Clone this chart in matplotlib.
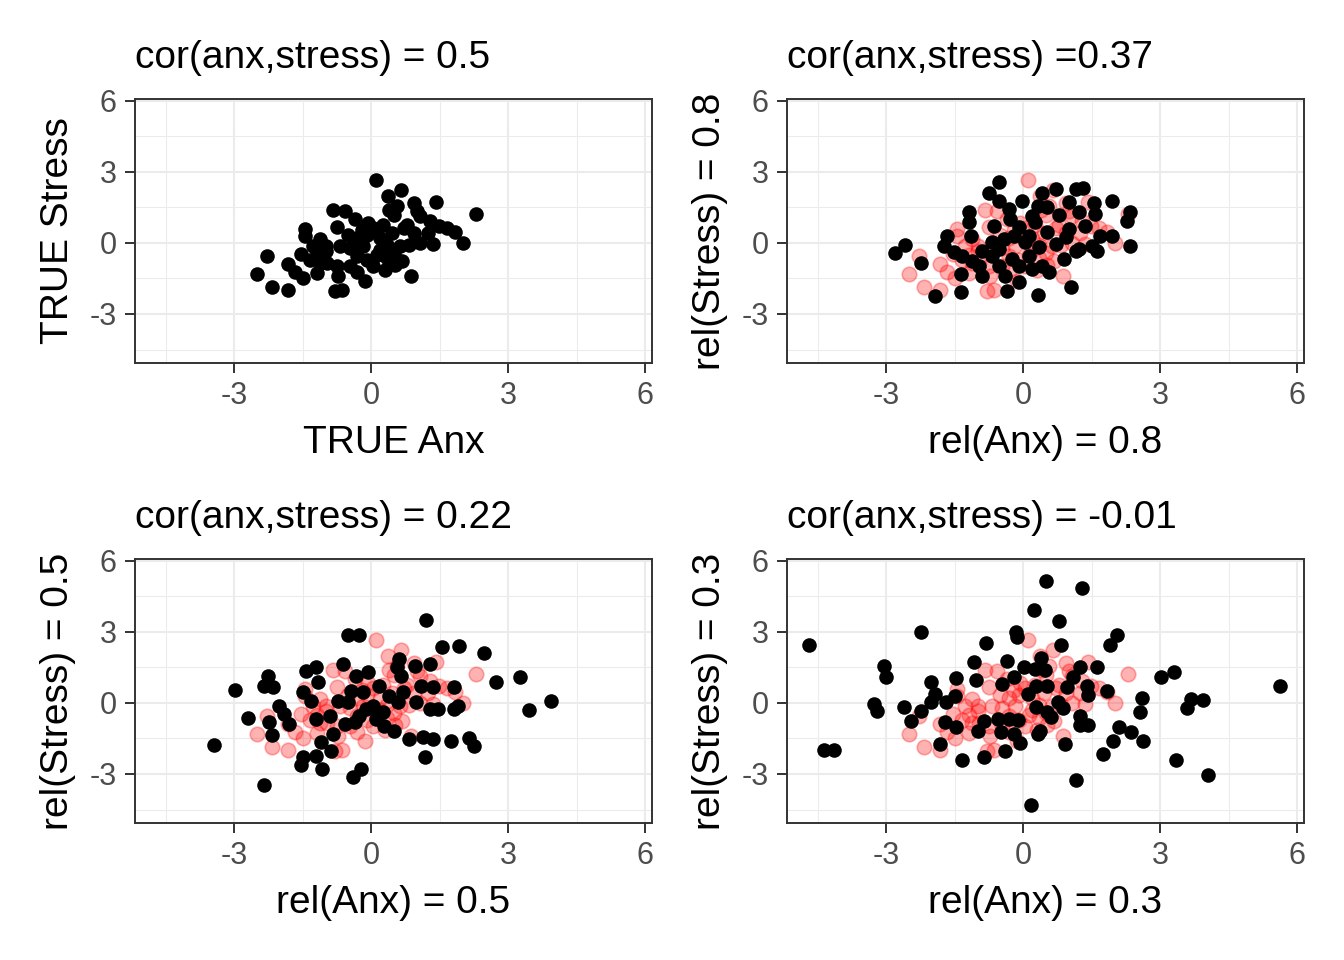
import matplotlib
matplotlib.use("Agg")
import matplotlib.pyplot as plt
from matplotlib.ticker import MultipleLocator

plt.rcParams['font.family'] = ['Liberation Sans', 'DejaVu Sans']

# true scores (panel 1, also drawn in red behind the others)
true_anx = [0.11, 0.38, 0.66, 0.93, 1.42, 2.30, -0.84, -0.57, 0.40, -0.35, -0.06, 0.27, 0.49,
            1.08, 1.29, 1.66, 1.84, 2.01, -1.45, -1.45, -0.74, -1.12, -0.99, -0.50, -0.31, -0.10,
            0.20, 0.45, 0.71, 0.93, 1.08, 1.35, 0.82, 0.64, 0.34, -0.46, -0.17, -2.29, -1.54,
            -1.19, -1.81, -1.67, -1.49, -2.49, -2.16, -1.81, -1.19, -0.97, -0.75, -0.72, -0.46,
            -0.30, -0.13, -0.79, -0.64, 0.05, 0.31, 0.53, 0.67, 0.87, -0.31, -0.10, 0.12, 0.34,
            -1.12, -1.34, -0.20, 0.05, 0.78, 1.24, 1.49, 1.00, 0.56, -0.99, -0.68, 0.20, 0.49, -1.27]
true_stress = [2.68, 2.00, 2.25, 1.69, 1.75, 1.23, 1.41, 1.34, 1.41, 1.01, 0.85, 0.77, 1.20,
               1.13, 0.92, 0.63, 0.45, 0.00, 0.59, 0.28, 0.68, 0.17, -0.11, 0.35, 0.21, 0.35,
               0.21, 0.42, 0.63, 0.42, 0.00, -0.04, -0.07, -0.14, -0.07, -0.21, -0.14, -0.54, -0.45,
               -0.49, -0.87, -1.24, -1.48, -1.30, -1.86, -1.97, -1.27, -0.85, -0.99, -1.41, -0.99,
               -1.24, -1.62, -2.04, -2.00, -0.99, -1.13, -0.92, -0.77, -1.41, -0.56, -0.70, -0.49, -0.63,
               -0.85, -0.70, 0.56, 0.63, 0.77, 0.42, 0.70, 1.34, 1.55, -0.35, -0.14, -0.28, -0.42, -0.14]

# observed scores, reliability 0.8
anx_08 = [-0.52, -0.75, -0.52, -0.31, -0.02, 0.42, 0.71, 1.15, 1.31, 0.33, 0.53, 1.00, 1.55,
          1.95, 1.22, 0.78, 1.58, 2.35, 2.28, -1.19, -1.19, -0.64, -0.09, 0.27, -1.66, -1.15,
          -0.68, -0.42, -0.20, 0.12, 0.53, 0.71, 1.00, 1.36, 1.69, 1.51, 1.22, 1.62, 2.35,
          -2.58, -2.81, -1.74, -1.52, -1.34, -2.23, -1.12, -0.97, -1.37, -0.90, -0.68, -0.53,
          -0.39, -0.24, -0.09, -0.09, 0.12, 0.20, 0.42, 0.56, 0.89, -1.94, -1.36, -0.36, 0.33,
          1.04, 0.05, 0.34, -0.53, -0.90, 0.93, 1.95, 0.20, -0.28, 1.15]
stress_08 = [2.56, 2.11, 1.79, 1.44, 1.79, 2.11, 2.28, 2.28, 2.31, 1.58, 1.51, 1.75, 1.69,
             1.79, 1.30, 1.18, 1.23, 1.30, 0.94, 1.30, 0.87, 0.73, 0.66, 0.87, 0.31, 0.31,
             0.03, 0.17, 0.31, 0.31, 0.45, -0.04, 0.59, 0.73, 0.31, -0.11, -0.25, -0.32, -0.14,
             -0.08, -0.42, -0.11, -0.39, -0.54, -0.85, -0.75, -0.96, -1.31, -1.38, -0.54, -0.96,
             -1.38, -0.68, -0.96, -1.66, -0.54, -1.10, -0.96, -1.24, -0.68, -2.23, -2.06, -2.01, -2.20,
             -1.87, 0.03, -0.18, -0.25, -0.32, 0.24, 0.31, 1.15, 1.01, -0.32]

# observed scores, reliability 0.5
anx_05 = [-0.51, -0.27, -0.61, -1.42, -1.20, -1.17, -2.26, -2.34, -2.14, -2.98, -1.50, -1.31,
          -0.33, -0.07, -0.44, -0.18, 0.18, -0.73, -0.51, -2.01, -1.90, -2.70, -2.23, -1.79,
          -2.18, -1.20, -0.91, -0.58, -0.36, -0.84, -1.09, -0.88, -1.20, -1.50, -1.53, -1.07,
          -0.22, -0.40, -3.43, -2.34, 0.04, 0.11, -0.11, 0.26, -0.26,
          1.20, 1.55, 1.92, 2.48, 0.61, 0.95, 1.28, 0.56, 0.66, 0.69, 0.40, 1.09, 1.35, 1.82,
          2.74, 3.25, 3.94, 3.45, 0.99, 1.28, 1.46, 1.82, 1.90, 0.58, 0.29, 0.51, 0.84, 1.13,
          1.35, 1.75, 2.14, 2.26, 1.17]
stress_05 = [2.85, 2.85, 1.65, 1.37, 1.51, 0.90, 1.13, 0.73, 0.66, 0.56, 0.48, 0.10,
             1.15, 1.30, 0.52, 0.45, 0.73, 0.10, 0.03, -0.11, -0.46, -0.65, -0.79, -0.89,
             -1.35, -0.68, -0.54, -0.89, -0.82, -1.31, -1.66, -2.01, -2.23, -2.30, -2.62, -2.79,
             -2.79, -3.14, -1.77, -3.45, -0.11, -0.68, -0.25, -0.39, -0.54,
             3.51, 2.35, 2.39, 2.10, 1.86, 1.58, 1.65, 1.51, 1.15, 0.45, 0.31, 0.73, 0.66, 0.66,
             0.87, 1.08, 0.07, -0.28, 0.03, -0.25, -0.25, -0.25, -0.11, 0.03, -0.96, -1.17, -1.52, -1.45,
             -1.52, -1.59, -1.48, -1.80, -2.30]

# observed scores, reliability 0.3
anx_03 = [-4.69, -2.23, 0.23, -0.15, -0.13, -0.81, -3.05, -3.00, -1.07, -0.35, -1.47, -1.03,
          -2.01, -1.94, -1.50, -1.68, -2.01, -3.27, -3.20, -2.60, -2.23, -2.45, -1.72, -1.47,
          -0.86, -0.99, -1.83, -1.33, -0.85, -0.39, -0.06, -0.55, -0.30, -0.12, -0.48, -0.19,
          0.10, 0.28, -0.47, -0.19, 0.03, 0.25, 0.28, 0.32, -4.36, -4.13, 0.18,
          0.50, 1.28, 0.79, 2.05, 1.91, 0.82, 0.39, 0.48, 1.25, 1.61, 1.10, 0.52, 0.96, 1.39,
          1.42, 1.83, 0.77, 0.88, 0.52, 0.61, 1.25, 1.25, 1.41, 0.36, 0.92, 1.74, 1.96, 2.09,
          2.36, 2.62, 2.56, 2.60, 3.02, 3.31, 3.67, 3.93, 3.58, 3.34, 4.04, 5.63, 1.16]
stress_03 = [2.44, 2.99, 3.93, 2.99, 2.77, 2.52, 1.58, 1.11, 1.72, 1.76, 1.06, 0.97,
             0.87, 0.38, 0.31, 0.03, 0.03, -0.04, -0.32, -0.15, -0.32, -0.75, -0.82, -1.00,
             -0.77, -1.17, -1.73, -2.41, -2.30, -2.04, -1.70, -0.68, -0.68, -0.72, -1.24, -1.31,
             0.38, 0.73, 0.80, 1.08, 1.51, 1.44, -0.18, -1.31, -1.99, -1.97, -4.31,
             5.17, 4.85, 3.48, 2.87, 2.46, 2.46, 1.90, 1.39, 1.51, 1.51, 1.08, 0.73, 0.66, 0.73,
             0.35, 0.49, 0.03, -0.21, -0.39, -0.61, -0.54, -0.92, -0.92, -1.17, -1.73, -2.15, -1.59, -1.03,
             -1.24, -1.62, -0.39, 0.21, 1.11, 1.30, 0.17, 0.13, -0.21, -2.41, -3.04, 0.73, -3.24]

panels = [
    (None, None, true_anx, true_stress, 'cor(anx,stress) = 0.5', 'TRUE Anx', 'TRUE Stress'),
    (true_anx, true_stress, anx_08, stress_08, 'cor(anx,stress) =0.37', 'rel(Anx) = 0.8', 'rel(Stress) = 0.8'),
    (true_anx, true_stress, anx_05, stress_05, 'cor(anx,stress) = 0.22', 'rel(Anx) = 0.5', 'rel(Stress) = 0.5'),
    (true_anx, true_stress, anx_03, stress_03, 'cor(anx,stress) = -0.01', 'rel(Anx) = 0.3', 'rel(Stress) = 0.3'),
]

W, H = 1344, 960
fig = plt.figure(figsize=(W / 100, H / 100), dpi=100)
boxes = [(135, 99), (787, 99), (135, 559), (787, 559)]
pw, ph = 517, 264

for (left, top), (rx, ry, bx, by, title, xlab, ylab) in zip(boxes, panels):
    ax = fig.add_axes([left / W, 1 - (top + ph) / H, pw / W, ph / H])
    if rx is not None:
        ax.scatter(rx, ry, s=110, facecolor=(1, 0, 0, 0.3), edgecolor=(1, 0, 0, 0.3),
                   linewidths=1.2, zorder=2)
    ax.scatter(bx, by, s=110, color='black', linewidths=0, zorder=3)
    ax.set_xlim(-5.17, 6.15)
    ax.set_ylim(-5.07, 6.08)
    ax.xaxis.set_minor_locator(MultipleLocator(1.5))
    ax.yaxis.set_minor_locator(MultipleLocator(1.5))
    ax.set_xticks([-3, 0, 3, 6])
    ax.set_yticks([-3, 0, 3, 6])
    ax.set_xticklabels(['-3', '0', '3', '6'])
    ax.set_yticklabels(['-3', '0', '3', '6'])
    ax.grid(which='major', color='#EBEBEB', linewidth=1.5, zorder=0)
    ax.grid(which='minor', color='#EBEBEB', linewidth=0.75, zorder=0)
    ax.set_axisbelow(True)
    for sp in ax.spines.values():
        sp.set_color('#333333')
        sp.set_linewidth(1.4)
    ax.tick_params(which='major', length=7, width=1.4, color='#333333',
                   labelsize=22, labelcolor='#4D4D4D', pad=6)
    ax.tick_params(which='minor', length=0)
    ax.set_title(title, loc='left', fontsize=28, pad=22)
    ax.set_xlabel(xlab, fontsize=28, labelpad=10)
    ax.set_ylabel(ylab, fontsize=28, labelpad=10)

fig.savefig('out.png', dpi=100)
